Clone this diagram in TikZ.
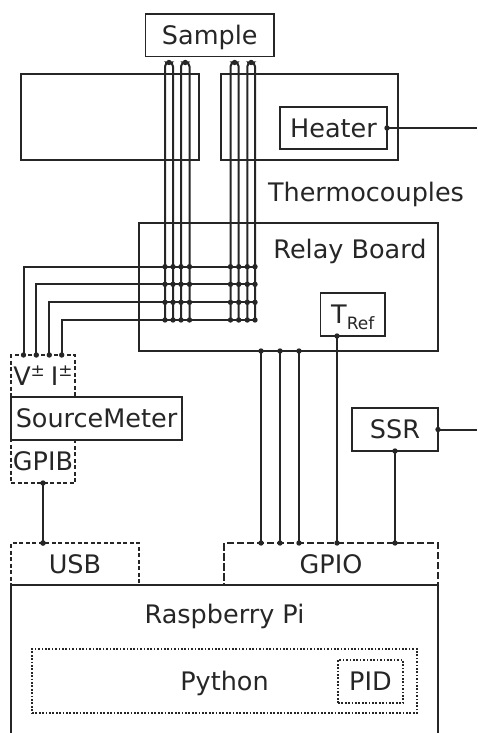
\documentclass[tikz,border=0pt]{standalone}
\usepackage{fontspec}
\setmainfont{DejaVu Sans}
\definecolor{ink}{HTML}{262626}
\begin{document}
\begin{tikzpicture}[
    x=1pt, y=-1pt,
    box/.style={rectangle, draw=ink, text=ink, line width=1.8pt, inner sep=0pt, outer sep=0pt, font=\fontsize{25.5}{30}\selectfont, text height=18.6pt, text depth=0pt, align=center},
    dashbox/.style={box, dash pattern=on 4pt off 2.5pt},
    longdashbox/.style={box, dash pattern=on 7.5pt off 2.5pt},
    dotbox/.style={box, dash pattern=on 1.7pt off 1.7pt},
    label/.style={box, draw=none},
    wire/.style={draw=ink, line width=2pt},
    pindot/.style={fill=ink}
    ]
    \clip (0,0) rectangle (477,733);

    \node [box, minimum width=128.5pt, minimum height=42.5pt] (sample) at (209.75,35.25) {Sample};
    \node [box, minimum width=178pt, minimum height=86pt] (leftblock) at (110,117) {};
    \node [box, minimum width=177pt, minimum height=86pt] (rightblock) at (309.5,117) {};
    \node [box, minimum width=107pt, minimum height=42pt] (heater) at (333.5,128) {Heater};
    \node [label] (thermo) at (366,192) {Thermocouples};
    \node [box, minimum width=299.3pt, minimum height=128pt] (relay) at (288.35,287) {};
    \node [label] (relaytext) at (350,249) {Relay Board};
    \node [box, minimum width=64.5pt, minimum height=43pt] (tref) at (352.75,314.5) {T\raisebox{-6pt}{\fontsize{17}{17}\selectfont Ref}};
    \node [box, minimum width=86pt, minimum height=43pt] (ssr) at (395,429.5) {SSR};
    \node [dashbox, minimum width=64pt, minimum height=42pt] (vi) at (43,376) {V\raisebox{9pt}{\fontsize{17}{17}\selectfont ±}\hspace{6pt}I\raisebox{9pt}{\fontsize{17}{17}\selectfont ±}};
    \node [box, minimum width=171pt, minimum height=43pt] (meter) at (96.5,418.5) {SourceMeter};
    \node [dashbox, minimum width=64pt, minimum height=43pt] (gpib) at (43,461.5) {GPIB};
    \node [dashbox, minimum width=128pt, minimum height=42pt] (usb) at (75,564) {USB};
    \node [longdashbox, minimum width=214pt, minimum height=42pt] (gpio) at (331,564) {GPIO};
    \node [box, minimum width=427pt, minimum height=180pt] (pi) at (224.5,675) {};
    \node [label] (pitext) at (224.5,614) {Raspberry Pi};
    \node [dotbox, minimum width=385pt, minimum height=64pt] (python) at (224.5,681) {Python};
    \node [dotbox, minimum width=65pt, minimum height=43pt] (pid) at (370.5,681.5) {PID};

    % thermocouple wires
    \coordinate (tca) at (165,320);
    \coordinate (tcb) at (173,320);
    \coordinate (tcc) at (181,320);
    \coordinate (tcd) at (189.5,320);
    \coordinate (tce) at (230.5,320);
    \coordinate (tcf) at (238.7,320);
    \coordinate (tcg) at (247.3,320);
    \coordinate (tch) at (255,320);
    \coordinate (tipa) at (169,62.5);
    \coordinate (tipb) at (185.3,62.5);
    \coordinate (tipc) at (234.6,62.5);
    \coordinate (tipd) at (251.2,62.5);
    \coordinate (rowa) at (255,266.7);
    \coordinate (rowb) at (255,284.3);
    \coordinate (rowc) at (255,302.3);
    \coordinate (rowd) at (255,320);
    \coordinate (pina) at (23.5,355);
    \coordinate (pinb) at (36.3,355);
    \coordinate (pinc) at (49.3,355);
    \coordinate (pind) at (61.7,355);
    \coordinate (heaterout) at (477,128);
    \coordinate (ssrout) at (477,429.5);
    \coordinate (ctla) at (261,351);
    \coordinate (ctlb) at (280,351);
    \coordinate (ctlc) at (299,351);
    \coordinate (tempa) at (337,336);
    \coordinate (ssra) at (395,451);

    \draw [wire, rounded corners=4pt] (tca) |- (tipa) -| (tcb);
    \draw [wire, rounded corners=4pt] (tcc) |- (tipb) -| (tcd);
    \draw [wire, rounded corners=4pt] (tce) |- (tipc) -| (tcf);
    \draw [wire, rounded corners=4pt] (tcg) |- (tipd) -| (tch);
    \draw [wire] (pina) |- (rowa);
    \draw [wire] (pinb) |- (rowb);
    \draw [wire] (pinc) |- (rowc);
    \draw [wire] (pind) |- (rowd);

    \draw [wire] (heater.east) -- (heaterout);
    \draw [wire] (ssr.east) -- (ssrout);
    \draw [wire] (gpib.south) -- (usb.north -| gpib.south);
    \draw [wire] (ctla) -- (gpio.north -| ctla);
    \draw [wire] (ctlb) -- (gpio.north -| ctlb);
    \draw [wire] (ctlc) -- (gpio.north -| ctlc);
    \draw [wire] (tempa) -- (gpio.north -| tempa);
    \draw [wire] (ssra) -- (gpio.north -| ssra);

    \foreach \tc in {tca,tcb,tcc,tcd,tce,tcf,tcg,tch} {
        \foreach \row in {rowa,rowb,rowc,rowd} {
            \fill [pindot] (\tc |- \row) circle (2.7);
        }
    }
    \foreach \pin in {tipa,tipb,tipc,tipd,pina,pinb,pinc,pind,ctla,ctlb,ctlc,tempa,ssra,heater.east,ssr.east,gpib.south} {
        \fill [pindot] (\pin) circle (2.7);
    }
    \foreach \pin in {gpib,ctla,ctlb,ctlc,tempa,ssra} {
        \fill [pindot] (gpio.north -| \pin) circle (2.7);
    }
    \fill [pindot] (usb.north -| gpib) circle (2.7);
\end{tikzpicture}
\end{document}
